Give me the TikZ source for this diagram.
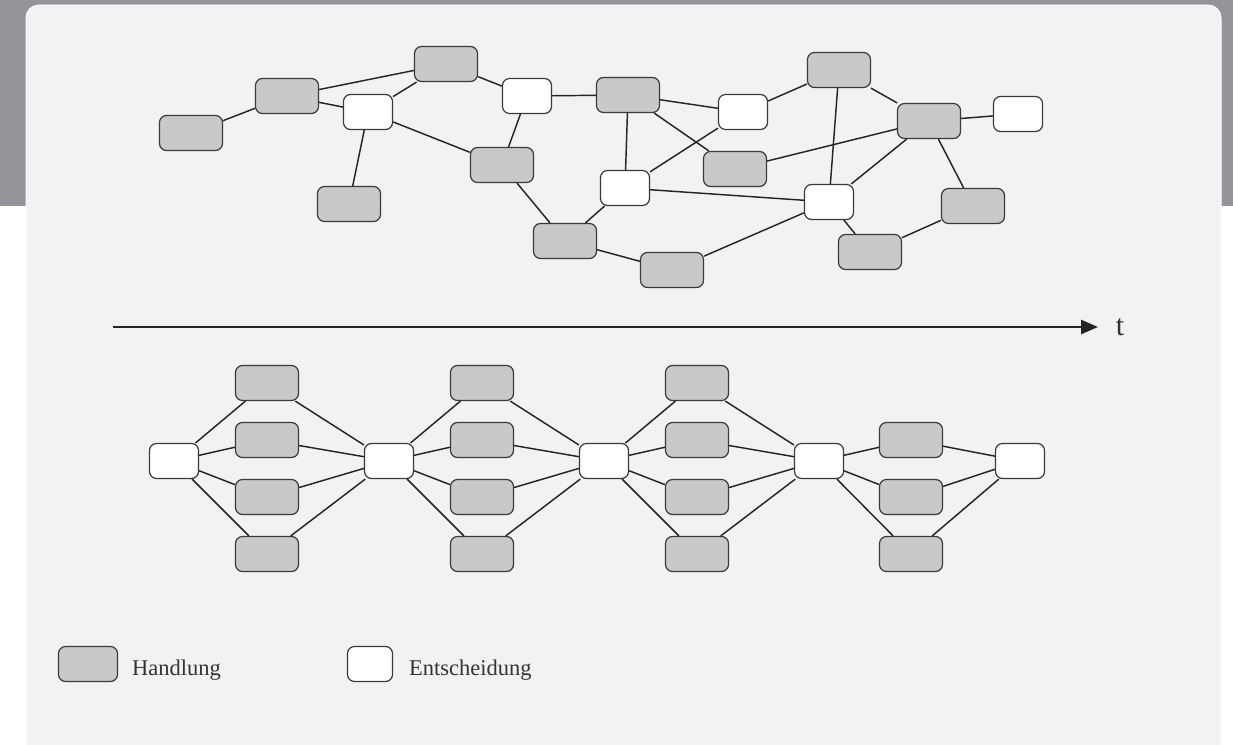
\documentclass[tikz,border=0pt]{standalone}
\usepackage{fontspec}
\setmainfont{Liberation Serif}
\usetikzlibrary{arrows.meta}
\definecolor{bandgray}{HTML}{949599}
\definecolor{panelbg}{HTML}{F1F2F4}
\definecolor{actfill}{HTML}{C8C9CB}
\definecolor{nodeline}{HTML}{3A3A3A}
\definecolor{edgecol}{HTML}{242424}
\definecolor{textcol}{HTML}{333333}
\tikzset{
  act/.style={draw=nodeline, fill=actfill, line width=1.2pt, rounded corners=7pt,
    minimum width=63pt, minimum height=35pt, inner sep=0pt},
  dec/.style={act, fill=white, minimum width=49pt},
  legact/.style={act, minimum width=59pt},
  legdec/.style={act, fill=white, minimum width=45pt},
  link/.style={draw=edgecol, line width=1.45pt},
  legtext/.style={font=\fontsize{22.5}{26}\selectfont, text=textcol, inner sep=0pt, anchor=base west}
}
\begin{document}
\begin{tikzpicture}[x=1pt,y=-1pt]
\useasboundingbox (0,0) rectangle (1233,744);
% backdrop: grey band with the light panel in front
\fill[bandgray] (0,0) rectangle (1233,206);
\fill[white] (0,206) rectangle (1233,744);
\draw[white, line width=1pt, fill=panelbg, rounded corners=13pt]
  (26,760) -- (26,5) -- (1221,5) -- (1221,760);

% ---------- unstructured network ----------
\node[act] (g1)  at (191,133) {};
\node[act] (g2)  at (287,96)  {};
\node[act] (g3)  at (446,64)  {};
\node[act] (g4)  at (349,204) {};
\node[act] (g5)  at (502,165) {};
\node[act] (g6)  at (628,95)  {};
\node[act] (g7)  at (735,169) {};
\node[act] (g8)  at (565,241) {};
\node[act] (g9)  at (672,270) {};
\node[act] (g10) at (839,70)  {};
\node[act] (g11) at (929,121) {};
\node[act] (g12) at (973,206) {};
\node[act] (g13) at (870,252) {};
\node[dec] (w1) at (368,112)  {};
\node[dec] (w2) at (527,96)   {};
\node[dec] (w3) at (743,112)  {};
\node[dec] (w4) at (625,188)  {};
\node[dec] (w5) at (829,202)  {};
\node[dec] (w6) at (1018,114) {};

\foreach \a/\b in {g1/g2, g2/g3, g2/w1, w1/g3, w1/g4, w1/g5, g3/w2, w2/g5, w2/g6,
  g5/g8, g6/w3, g6/g7, g6/w4, w3/w4, w3/g10, g7/g11, w4/w5, w4/g8, g8/g9, g9/w5,
  g10/w5, g10/g11, g11/w5, g11/w6, g11/g12, w5/g13, g13/g12}
  \draw[link] (\a) -- (\b);

% ---------- time axis ----------
\coordinate (t0) at (113,327);
\node[font=\fontsize{30}{34}\selectfont, text=textcol, inner sep=0pt] (tlabel) at (1120,327) {t};
\coordinate (t1) at (1098,327);
\draw[edgecol, line width=2.6pt, -{Triangle[length=17pt, width=14pt]}] (t0) -- (t1);

% ---------- structured sequence ----------
\foreach \i/\x in {1/174, 2/389, 3/604, 4/819, 5/1020}
  \node[dec] (s\i) at (\x,461) {};
\foreach \c/\x in {1/267, 2/482, 3/697}
  \foreach \r/\y in {1/383, 2/440, 3/497, 4/554}
    \node[act] (c\c-\r) at (\x,\y) {};
\foreach \r/\y in {2/440, 3/497, 4/554}
  \node[act] (c4-\r) at (911,\y) {};

\foreach \c in {1,2,3}{
  \pgfmathtruncatemacro{\nxt}{\c+1}
  \foreach \r in {1,...,4}{
    \draw[link] (s\c) -- (c\c-\r);
    \draw[link] (c\c-\r) -- (s\nxt);
  }
}
\foreach \r in {2,3,4}{
  \draw[link] (s4) -- (c4-\r);
  \draw[link] (c4-\r) -- (s5);
}

% ---------- legend ----------
\node[legact] (lh) at (88,664) {};
\node[legtext] (lht) at (132,675) {Handlung};
\node[legdec] (le) at (370,664) {};
\node[legtext] (let) at (409,675) {Entscheidung};
\end{tikzpicture}
\end{document}
